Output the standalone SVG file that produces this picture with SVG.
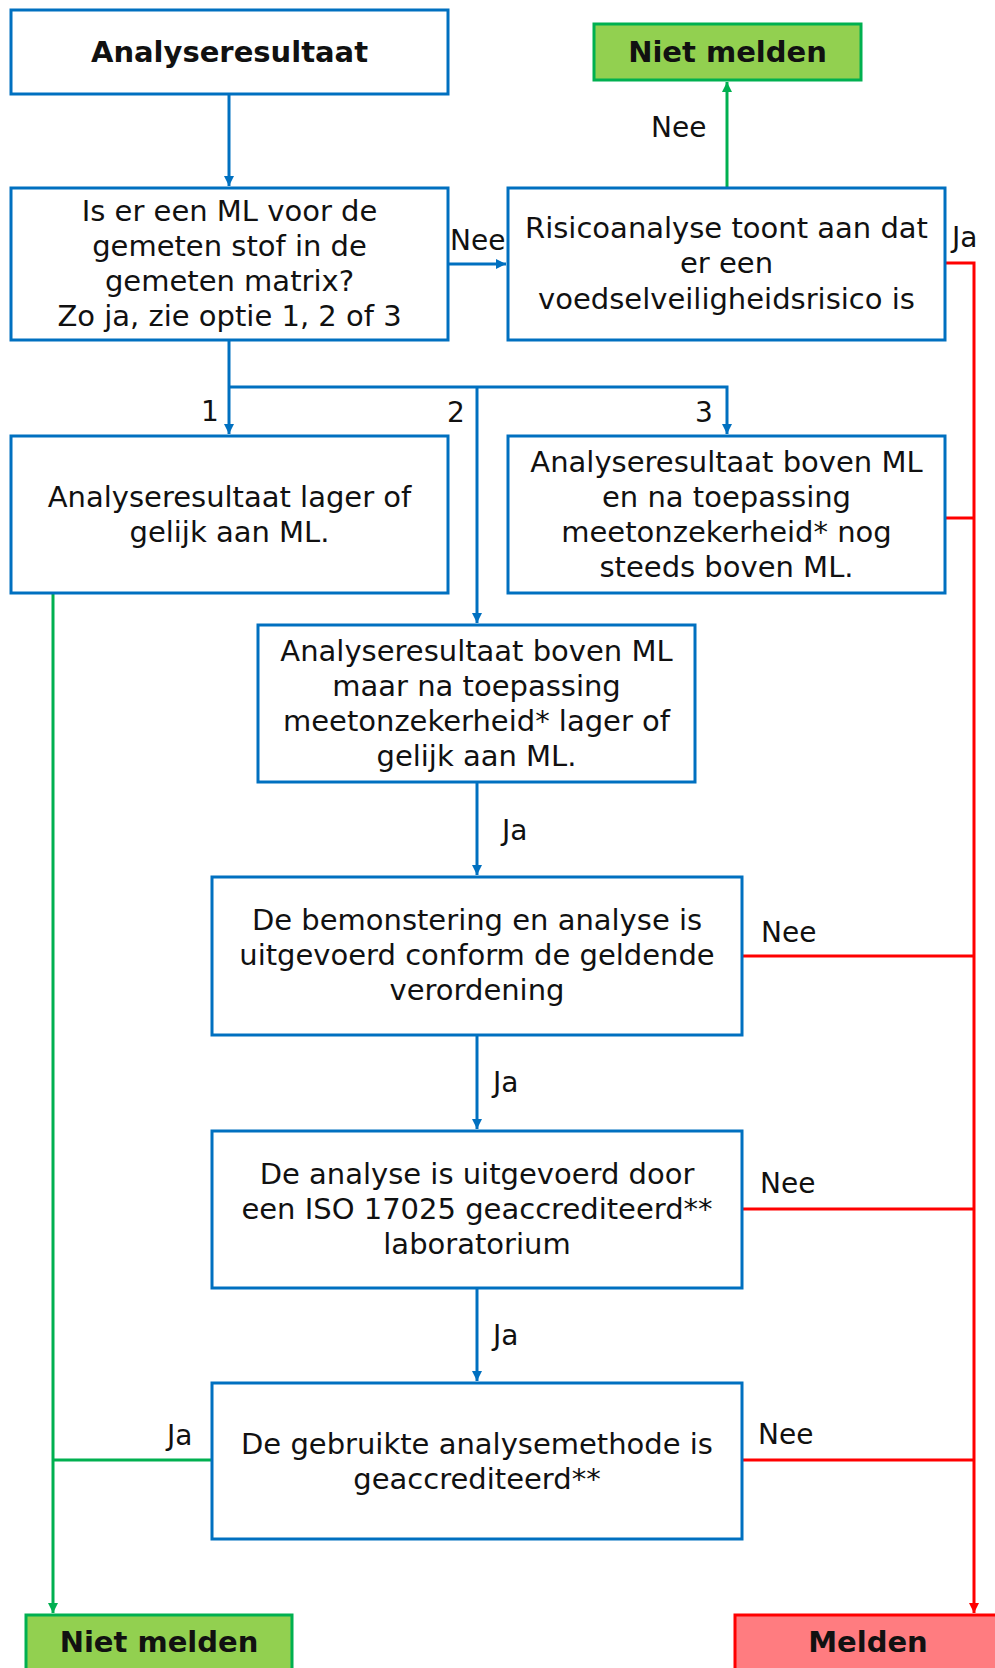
<svg xmlns="http://www.w3.org/2000/svg" width="995" height="1668" viewBox="0 0 995 1668">
<style>
  .box{fill:#fff;stroke:#0070C0;stroke-width:3}
  .go{fill:#92D050;stroke:#00B050;stroke-width:3}
  .stop{fill:#FF7C80;stroke:#FF0000;stroke-width:3}
  text{font-family:"DejaVu Sans","Verdana",sans-serif;fill:#111}
  .t{font-size:29px;text-anchor:middle}
  .b{font-size:29px;font-weight:bold;text-anchor:middle}
  .l{font-size:28px}
  .cb{fill:none;stroke:#0070C0;stroke-width:3}
  .cg{fill:none;stroke:#00B050;stroke-width:3}
  .cr{fill:none;stroke:#FF0000;stroke-width:3}
</style>
<defs>
  <marker id="ab" markerUnits="userSpaceOnUse" markerWidth="10" markerHeight="10" refX="10" refY="5" orient="auto"><path d="M0,0 L10,5 L0,10 z" fill="#0070C0"/></marker>
  <marker id="ag" markerUnits="userSpaceOnUse" markerWidth="10" markerHeight="10" refX="10" refY="5" orient="auto"><path d="M0,0 L10,5 L0,10 z" fill="#00B050"/></marker>
  <marker id="ar" markerUnits="userSpaceOnUse" markerWidth="10" markerHeight="10" refX="10" refY="5" orient="auto"><path d="M0,0 L10,5 L0,10 z" fill="#FF0000"/></marker>
</defs>
<rect width="995" height="1668" fill="#fff"/>

<g id="connectors">
  <path class="cb" d="M229,94 V186" marker-end="url(#ab)"/>
  <path class="cb" d="M448,264 H506" marker-end="url(#ab)"/>
  <path class="cb" d="M229,340 V434" marker-end="url(#ab)"/>
  <path class="cb" d="M229,387 H727 V434" marker-end="url(#ab)"/>
  <path class="cb" d="M477,387 V623" marker-end="url(#ab)"/>
  <path class="cb" d="M477,782 V875" marker-end="url(#ab)"/>
  <path class="cb" d="M477,1035 V1129" marker-end="url(#ab)"/>
  <path class="cb" d="M477,1288 V1381" marker-end="url(#ab)"/>
  <path class="cg" d="M727,188 V82" marker-end="url(#ag)"/>
  <path class="cg" d="M53,593 V1613" marker-end="url(#ag)"/>
  <path class="cg" d="M211,1460 H53"/>
  <path class="cr" d="M945,263 H974 V1613" marker-end="url(#ar)"/>
  <path class="cr" d="M945,518 H974"/>
  <path class="cr" d="M742,956 H974"/>
  <path class="cr" d="M742,1209 H974"/>
  <path class="cr" d="M742,1460 H974"/>
  <text class="l" x="651" y="137">Nee</text>
  <text class="l" x="450" y="250">Nee</text>
  <text class="l" x="952" y="247">Ja</text>
  <text class="l" x="201" y="421">1</text>
  <text class="l" x="447" y="422">2</text>
  <text class="l" x="695" y="422">3</text>
  <text class="l" x="502" y="840">Ja</text>
  <text class="l" x="493" y="1092">Ja</text>
  <text class="l" x="493" y="1345">Ja</text>
  <text class="l" x="761" y="942">Nee</text>
  <text class="l" x="760" y="1193">Nee</text>
  <text class="l" x="758" y="1444">Nee</text>
  <text class="l" x="167" y="1445">Ja</text>
</g>

<g id="start">
  <rect class="box" x="11" y="10" width="437" height="84"/>
  <text class="b" x="229.5" y="62">Analyseresultaat</text>
</g>

<g id="niet-melden-top">
  <rect class="go" x="594" y="24" width="267" height="56"/>
  <text class="b" x="727.5" y="62">Niet melden</text>
</g>

<g id="ml-vraag">
  <rect class="box" x="11" y="188" width="437" height="152"/>
  <text class="t" x="229.5" y="221">Is er een ML voor de</text>
  <text class="t" x="229.5" y="256">gemeten stof in de</text>
  <text class="t" x="229.5" y="291">gemeten matrix?</text>
  <text class="t" x="229.5" y="326">Zo ja, zie optie 1, 2 of 3</text>
</g>

<g id="risico">
  <rect class="box" x="508" y="188" width="437" height="152"/>
  <text class="t" x="726.5" y="238">Risicoanalyse toont aan dat</text>
  <text class="t" x="726.5" y="273">er een</text>
  <text class="t" x="726.5" y="309">voedselveiligheidsrisico is</text>
</g>

<g id="optie1">
  <rect class="box" x="11" y="436" width="437" height="157"/>
  <text class="t" x="229.5" y="507">Analyseresultaat lager of</text>
  <text class="t" x="229.5" y="542">gelijk aan ML.</text>
</g>

<g id="optie3">
  <rect class="box" x="508" y="436" width="437" height="157"/>
  <text class="t" x="726.5" y="472">Analyseresultaat boven ML</text>
  <text class="t" x="726.5" y="507">en na toepassing</text>
  <text class="t" x="726.5" y="542">meetonzekerheid* nog</text>
  <text class="t" x="726.5" y="577">steeds boven ML.</text>
</g>

<g id="optie2">
  <rect class="box" x="258" y="625" width="437" height="157"/>
  <text class="t" x="476.5" y="661">Analyseresultaat boven ML</text>
  <text class="t" x="476.5" y="696">maar na toepassing</text>
  <text class="t" x="476.5" y="731">meetonzekerheid* lager of</text>
  <text class="t" x="476.5" y="766">gelijk aan ML.</text>
</g>

<g id="bemonstering">
  <rect class="box" x="212" y="877" width="530" height="158"/>
  <text class="t" x="477" y="930">De bemonstering en analyse is</text>
  <text class="t" x="477" y="965">uitgevoerd conform de geldende</text>
  <text class="t" x="477" y="1000">verordening</text>
</g>

<g id="iso">
  <rect class="box" x="212" y="1131" width="530" height="157"/>
  <text class="t" x="477" y="1184">De analyse is uitgevoerd door</text>
  <text class="t" x="477" y="1219">een ISO 17025 geaccrediteerd**</text>
  <text class="t" x="477" y="1254">laboratorium</text>
</g>

<g id="methode">
  <rect class="box" x="212" y="1383" width="530" height="156"/>
  <text class="t" x="477" y="1454">De gebruikte analysemethode is</text>
  <text class="t" x="477" y="1489">geaccrediteerd**</text>
</g>

<g id="niet-melden-bottom">
  <rect class="go" x="26" y="1615" width="266" height="80"/>
  <text class="b" x="159" y="1652">Niet melden</text>
</g>

<g id="melden">
  <rect class="stop" x="735" y="1615" width="268" height="80"/>
  <text class="b" x="868" y="1652">Melden</text>
</g>
</svg>
